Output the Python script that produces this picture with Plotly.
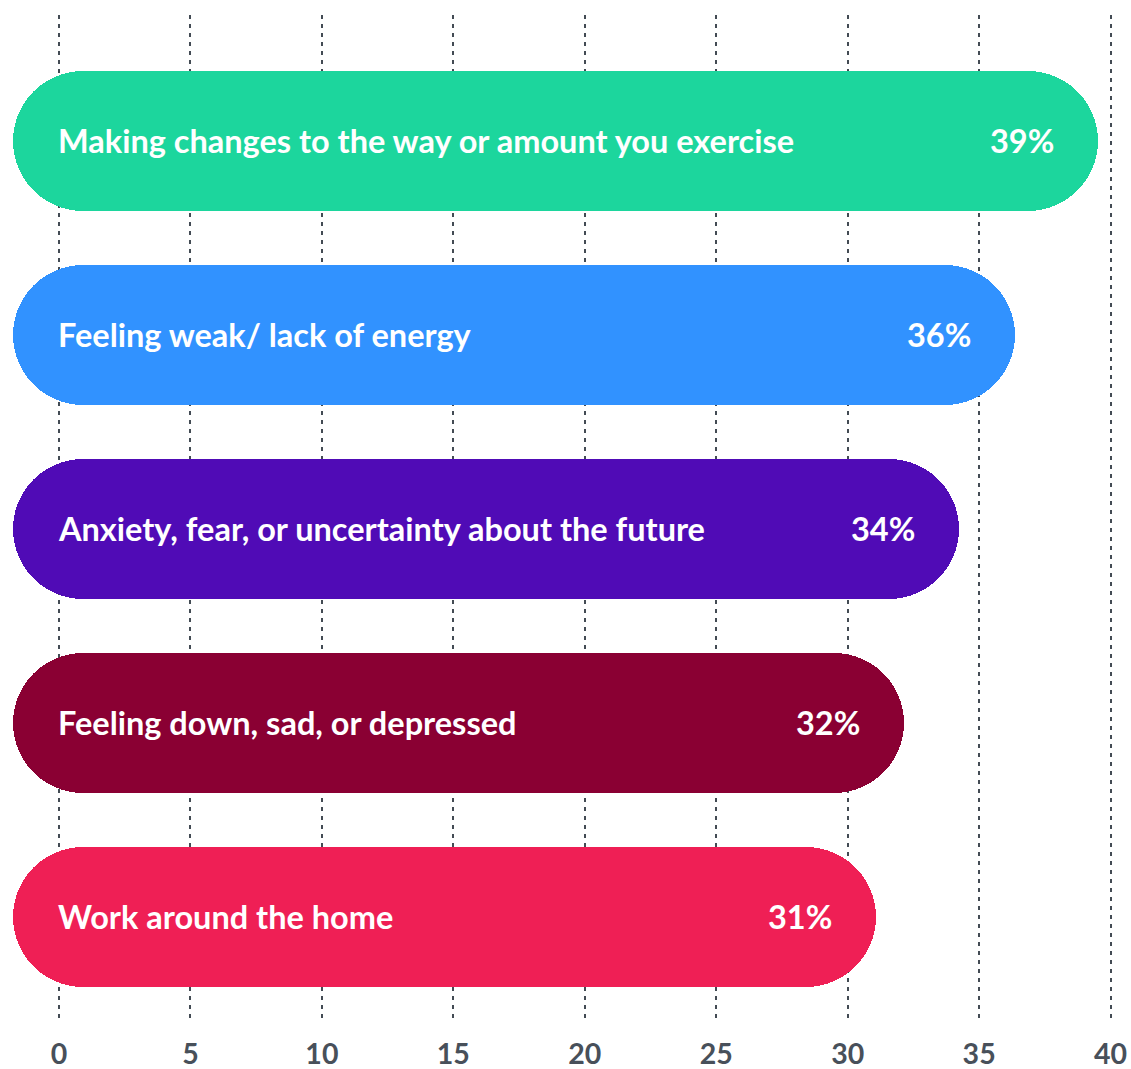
import plotly.graph_objects as go

categories = [
    "Making changes to the way or amount you exercise",
    "Feeling weak/ lack of energy",
    "Anxiety, fear, or uncertainty about the future",
    "Feeling down, sad, or depressed",
    "Work around the home",
]
values = [39, 36, 34, 32, 31]
colors = ["#1cd69d", "#3192ff", "#500bb6", "#8a0033", "#ef1f55"]
tick_vals = [0, 5, 10, 15, 20, 25, 30, 35, 40]

W, H = 1131, 1069
FONT = "Lato"

fig = go.Figure()

# bottom-to-top order for the category axis
cat_order = list(reversed(categories))

for cat, val, col in zip(categories, values, colors):
    fig.add_trace(go.Bar(
        y=[cat], x=[val], base=[0], orientation="h",
        marker=dict(color=col, cornerradius="50%", line=dict(width=0)),
        width=0.7216, xaxis="x2", yaxis="y", hoverinfo="skip", showlegend=False,
    ))
    fig.add_annotation(
        x=0, y=cat, xref="x", yref="y", text=cat, showarrow=False,
        xanchor="left", yanchor="middle", xshift=-3,
        font=dict(family=FONT, size=32.5, color="white", weight="bold"),
    )
    fig.add_annotation(
        x=val, y=cat, xref="x2", yref="y", text=f"{val}%", showarrow=False,
        xanchor="right", yanchor="middle", xshift=-42,
        font=dict(family=FONT, size=32.5, color="white", weight="bold"),
    )

fig.update_layout(
    width=W, height=H,
    margin=dict(l=0, r=0, t=15, b=51),
    paper_bgcolor="white", plot_bgcolor="white",
    barmode="overlay",
    bargap=0,
    xaxis=dict(
        range=[-2.244, 40.776], tickvals=tick_vals,
        showgrid=True, gridcolor="#434b54", gridwidth=2, griddash="4px,5px",
        zeroline=False, showline=False, ticks="",
        tickfont=dict(family=FONT, size=28.5, color="#48505a", weight="bold"),
        ticklabelstandoff=16, automargin=False, fixedrange=True,
    ),
    xaxis2=dict(
        range=[-0.478, 40.176], overlaying="x", visible=False, showgrid=False,
        zeroline=False, fixedrange=True,
    ),
    yaxis=dict(
        type="category", categoryorder="array", categoryarray=cat_order,
        range=[-0.521, 4.649], visible=False, showgrid=False, zeroline=False,
        fixedrange=True,
    ),
)

fig.write_html(
    "out.html",
    config={"displayModeBar": False},
    post_script="document.body.style.margin='0';document.body.style.overflow='hidden';",
)
